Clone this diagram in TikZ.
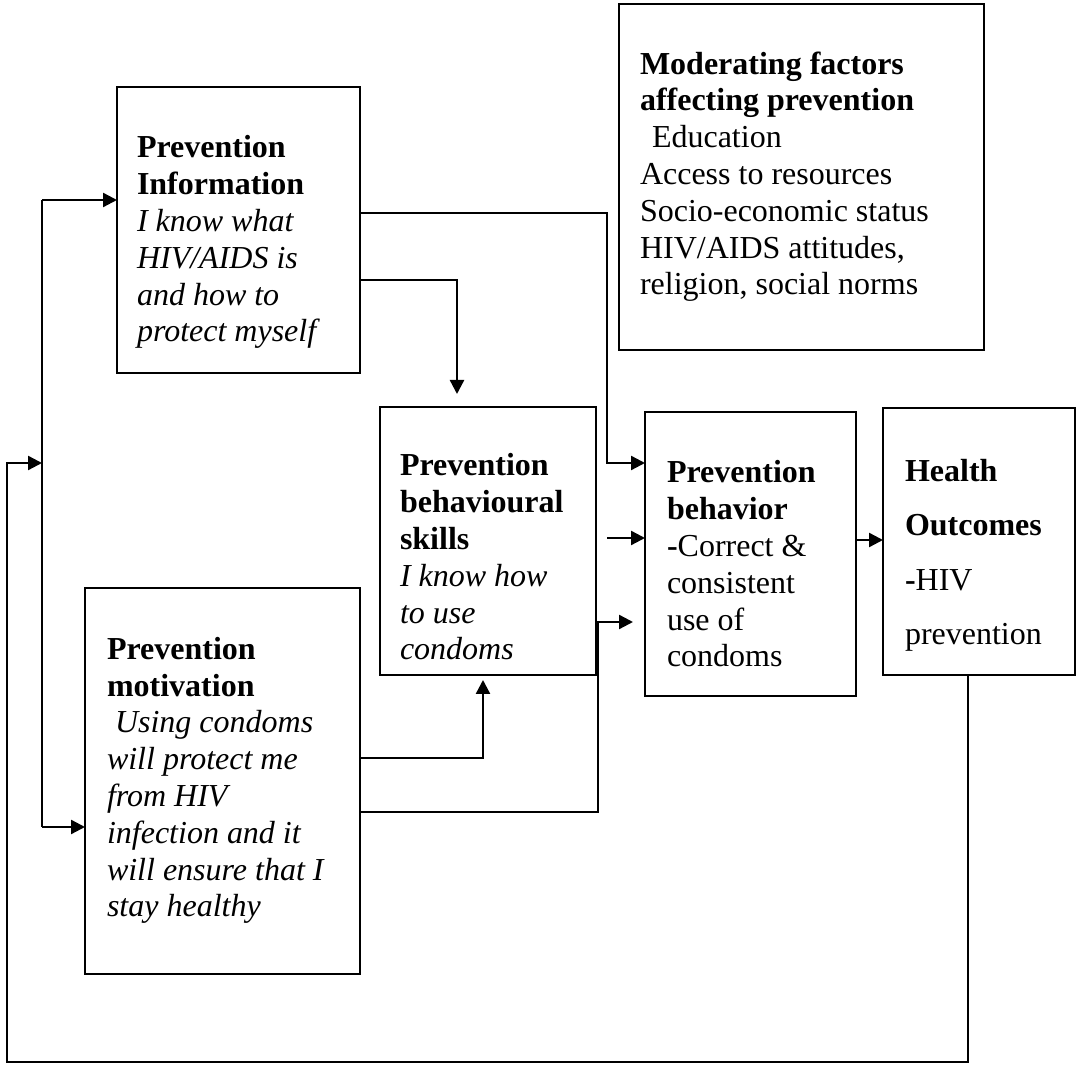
\documentclass[tikz,border=0pt]{standalone}
\usepackage{fontspec}
\setmainfont{Liberation Serif}
\usetikzlibrary{arrows.meta}
\begin{document}
\begin{tikzpicture}[x=0.5pt,y=-0.5pt,
  box/.style 2 args={draw, line width=1.3pt, rectangle, outer sep=0pt, inner sep=0pt,
    minimum width=#1*0.5pt, minimum height=#2*0.5pt},
  txt/.style={anchor=base west, align=left, inner sep=0pt, outer sep=0pt,
    font=\fontsize{16}{18.4}\selectfont},
  wtxt/.style={txt, font=\fontsize{16}{27.3}\selectfont},
  conn/.style={line width=1.2pt},
  arr/.style={conn, -{Triangle[length=7pt,width=7pt]}}]
\useasboundingbox (0,0) rectangle (1078,1068);
% boxes
\node[box={243}{286}] (info) at (238.5,230) {};
\node[box={365}{346}] (moder) at (801.5,177) {};
\node[box={216}{268}] (skills) at (488,541) {};
\node[box={211}{284}] (behav) at (750.5,554) {};
\node[box={192}{267}] (health) at (979,541.5) {};
\node[box={275}{386}] (motiv) at (222.5,781) {};
% texts (anchored at the baseline of their last line)
\node[txt] (infot) at (137,342) {\textbf{Prevention}\\\textbf{Information}\\\textit{I know what}\\\textit{HIV/AIDS is}\\\textit{and how to}\\\textit{protect myself}};
\node[txt] (modert) at (640,295) {\textbf{Moderating factors}\\\textbf{affecting prevention}\\\hspace*{6pt}Education\\Access to resources\\Socio-economic status\\HIV/AIDS attitudes,\\religion, social norms};
\node[txt] (skillst) at (400,660) {\textbf{Prevention}\\\textbf{behavioural}\\\textbf{skills}\\\textit{I know how}\\\textit{to use}\\\textit{condoms}};
\node[txt] (behavt) at (667,667) {\textbf{Prevention}\\\textbf{behavior}\\\textbf{-}Correct \&\\consistent\\use of\\condoms};
\node[wtxt] (healtht) at (905,645) {\textbf{Health}\\\textbf{Outcomes}\\\textbf{-}HIV\\prevention};
\node[txt] (motivt) at (107,917) {\textbf{Prevention}\\\textbf{motivation}\\\textit{\hspace*{4pt}Using condoms}\\\textit{will protect me}\\\textit{from HIV}\\\textit{infection and it}\\\textit{will ensure that I}\\\textit{stay healthy}};
% connectors
\coordinate (split) at (42,463);
\draw[arr] (health.south -| 968,0) -- (968,1062) -- (7,1062) -- (7,463) -- (split);
\draw[conn] (42,200) -- (42,827);
\draw[arr] (42,200) -- (info.west |- 0,200);
\draw[arr] (42,827) -- (motiv.west |- 0,827);
\draw[arr] (info.east |- 0,213) -| (607,463) -- (behav.west |- 0,463);
\draw[arr, shorten >=6.5pt] (info.east |- 0,280) -| (skills.north -| 457,0);
\draw[arr, shorten <=5.5pt] (skills.east |- 0,538) -- (behav.west |- 0,538);
\draw[arr, shorten >=2.5pt] (motiv.east |- 0,758) -| (skills.south -| 483,0);
\draw[arr, shorten >=6pt] (motiv.east |- 0,812) -| (598,622) -- (behav.west |- 0,622);
\draw[arr] (behav.east |- 0,540) -- (health.west |- 0,540);
\end{tikzpicture}
\end{document}
